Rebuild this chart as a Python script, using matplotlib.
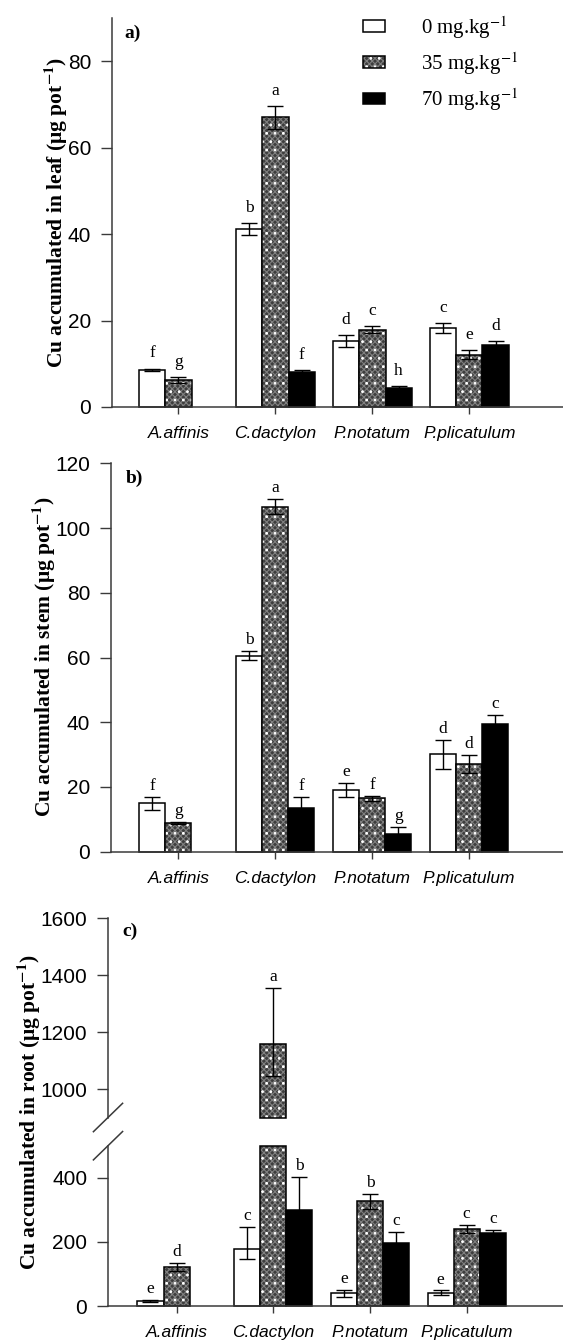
import numpy as np
import matplotlib
matplotlib.use("Agg")
import matplotlib.pyplot as plt
from matplotlib.lines import Line2D
from matplotlib.legend_handler import HandlerTuple

plt.rcParams.update({"font.family": "Liberation Sans", "mathtext.fontset": "stix",
                     "hatch.linewidth": 0.8})
SERIF = "Liberation Serif"

species = ["A.affinis", "C.dactylon", "P.notatum", "P.plicatulum"]
doses = ["0 mg.kg$^{-1}$", "35 mg.kg$^{-1}$", "70 mg.kg$^{-1}$"]
nan = np.nan

# leaf (ug/pot), mean and error, letters over each bar
leaf_0 = [8.6, 41.2, 15.2, 18.3]
leaf_35 = [6.3, 67.0, 17.9, 12.1]
leaf_70 = [nan, 8.0, 4.3, 14.4]
leaf_0_err = [0.3, 1.3, 1.4, 1.1]
leaf_35_err = [0.7, 2.7, 0.8, 1.1]
leaf_70_err = [nan, 0.5, 0.5, 0.8]
leaf_let = [["f", "b", "d", "c"], ["g", "a", "c", "e"], ["", "f", "h", "d"]]

# stem
stem_0 = [15.0, 60.6, 19.1, 30.1]
stem_35 = [8.8, 106.6, 16.5, 27.1]
stem_70 = [nan, 13.4, 5.4, 39.5]
stem_0_err = [2.0, 1.5, 2.2, 4.4]
stem_35_err = [0.3, 2.3, 0.7, 2.9]
stem_70_err = [nan, 3.4, 2.3, 2.7]
stem_let = [["f", "b", "e", "d"], ["g", "a", "f", "d"], ["", "f", "g", "c"]]

# root (broken axis), errors below / above the mean
root_0 = [15.6, 178, 39.6, 41.5]
root_35 = [122.6, 1160, 328, 240]
root_70 = [nan, 299, 197, 227]
root_0_lo = [2, 32, 10.5, 7]
root_0_hi = [2, 69, 10.5, 7]
root_35_lo = [12.5, 115, 26, 13]
root_35_hi = [12.5, 195, 21, 13]
root_70_lo = [nan, 102, 35, 10]
root_70_hi = [nan, 102, 35, 10]
root_let = [["e", "c", "e", "e"], ["d", "a", "b", "c"], ["", "b", "c", "c"]]

W, H = 563, 1342
fig = plt.figure(figsize=(W / 100, H / 100), dpi=100)


def box(left, top, bottom):
    return [left / W, 1 - bottom / H, 1 - left / W, (bottom - top) / H]


BW = 0.27
OFFS = [-BW, 0.0, BW]


def dose_bars(ax, x, base, h, k):
    kw = dict(width=BW, bottom=base, clip_on=False)
    if k == 0:
        return (ax.bar(x, h, color="white", edgecolor="black", lw=1.1, **kw),)
    if k == 2:
        return (ax.bar(x, h, color="black", edgecolor="black", lw=1.1, **kw),)
    a = ax.bar(x, h, color="#3e3e3e", edgecolor="#808080", hatch="xxxxxx", lw=0, **kw)
    b = ax.bar(x, h, color="none", edgecolor="white", hatch="..", lw=0, **kw)
    c = ax.bar(x, h, fill=False, edgecolor="black", lw=1.1, **kw)
    return (a, b, c)


def draw_panel(ax, series, lows, highs, lets, lo=0, hi=None, off=6):
    handles = []
    for k, (v, el, eh, lab) in enumerate(zip(series, lows, highs, lets)):
        v, el, eh = (np.asarray(a, float) for a in (v, el, eh))
        x = np.arange(len(v)) + OFFS[k]
        keep = np.nan_to_num(v, nan=-1) > lo
        top = v if hi is None else np.minimum(v, hi)
        handles.append(dose_bars(ax, x, lo, np.where(keep, top - lo, nan), k))
        show = keep if hi is None else keep & (np.nan_to_num(v) <= hi)
        if show.any():
            ax.errorbar(x[show], v[show], yerr=[el[show], eh[show]], fmt="none",
                        ecolor="black", elinewidth=1, capsize=5.5, capthick=1, clip_on=False)
        for xi, t, s, ok in zip(x, v + eh, lab, show):
            if ok and s:
                ax.annotate(s, (xi, t), xytext=(0, off), textcoords="offset points",
                            ha="center", va="baseline", family=SERIF, fontsize=12.5,
                            annotation_clip=False)
    return handles


def style(ax, xlim, ylim, yticks, xaxis=True):
    ax.set_xlim(*xlim)
    ax.set_ylim(*ylim)
    ax.set_yticks(yticks)
    ax.patch.set_visible(False)
    for s in ("top", "right"):
        ax.spines[s].set_visible(False)
    for s in ("left", "bottom"):
        ax.spines[s].set_color("#3a3a3a")
        ax.spines[s].set_linewidth(1.1)
    ax.tick_params(axis="y", direction="out", length=8, width=1, pad=7,
                   labelsize=15, color="#3a3a3a")
    if xaxis:
        ax.set_xticks(range(len(species)))
        ax.set_xticklabels(species, fontstyle="italic", fontsize=12.5)
        ax.tick_params(axis="x", direction="out", length=5, width=1, pad=9, color="#3a3a3a")
    else:
        ax.spines["bottom"].set_visible(False)
        ax.set_xticks([])


# a) leaf
ax_a = fig.add_axes(box(112, 18, 407))
hd = draw_panel(ax_a, [leaf_0, leaf_35, leaf_70], [leaf_0_err, leaf_35_err, leaf_70_err],
                [leaf_0_err, leaf_35_err, leaf_70_err], leaf_let, off=8)
style(ax_a, (-0.685, 3.965), (0, 90), range(0, 81, 20))
ax_a.legend(hd, doses, handler_map={tuple: HandlerTuple(ndivide=1, pad=0)},
            loc="upper left", bbox_to_anchor=(363 / W, 1 - 14 / H),
            bbox_transform=fig.transFigure, frameon=False, borderpad=0, borderaxespad=0,
            handlelength=1.06, handleheight=0.5, handletextpad=1.73, labelspacing=0.45,
            prop={"family": SERIF, "size": 15})

# b) stem
ax_b = fig.add_axes(box(111, 463.3, 851.7))
draw_panel(ax_b, [stem_0, stem_35, stem_70], [stem_0_err, stem_35_err, stem_70_err],
           [stem_0_err, stem_35_err, stem_70_err], stem_let, off=5)
style(ax_b, (-0.696, 3.973), (0, 120), range(0, 121, 20))

# c) root, broken y axis
ax_ct = fig.add_axes(box(108, 918.3, 1117.5))
ax_cb = fig.add_axes(box(108, 1145.7, 1306))
roots = [root_0, root_35, root_70]
r_lo = [root_0_lo, root_35_lo, root_70_lo]
r_hi = [root_0_hi, root_35_hi, root_70_hi]
draw_panel(ax_ct, roots, r_lo, r_hi, root_let, lo=900, off=5)
draw_panel(ax_cb, roots, r_lo, r_hi, root_let, hi=500, off=5)
style(ax_ct, (-0.709, 3.996), (900, 1600), range(1000, 1601, 200), xaxis=False)
style(ax_cb, (-0.709, 3.996), (0, 500), range(0, 401, 200))

# break marks on the y axis
x0 = ax_ct.get_position().x0
dx, dy = 14.6 / W, 14.2 / H
for yb in (ax_ct.get_position().y0, ax_cb.get_position().y1):
    fig.add_artist(Line2D([x0 - dx, x0 + dx], [yb - dy, yb + dy], color="#3a3a3a", lw=1.1))

# y labels and panel tags
ylab = dict(rotation=90, ha="center", va="center", family=SERIF, fontsize=15.5, fontweight="bold")
fig.text(55.6 / W, 1 - 212 / H, r"Cu accumulated in leaf (μg pot$^{\mathbf{-1}}$)", **ylab)
fig.text(43.8 / W, 1 - 657 / H, r"Cu accumulated in stem (μg pot$^{\mathbf{-1}}$)", **ylab)
fig.text(28.7 / W, 1 - 1112 / H, r"Cu accumulated in root (μg pot$^{\mathbf{-1}}$)", **ylab)
tag = dict(ha="left", va="center", family=SERIF, fontsize=14, fontweight="bold")
fig.text(124 / W, 1 - 33 / H, "a)", **tag)
fig.text(126 / W, 1 - 478 / H, "b)", **tag)
fig.text(122 / W, 1 - 931.7 / H, "c)", **tag)

fig.savefig("out.png", dpi=100)
